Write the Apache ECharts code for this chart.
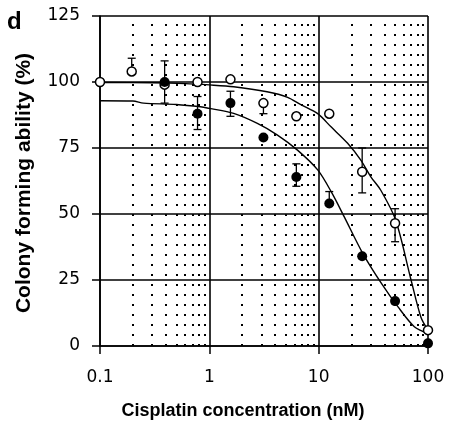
<!DOCTYPE html>
<html>
<head>
<meta charset="utf-8">
<script src="https://cdn.jsdelivr.net/npm/echarts@6/dist/echarts.min.js"></script>
<style>html,body{margin:0;padding:0;background:#fff;}#c{width:449px;height:423px;}</style>
</head>
<body>
<div id="c"></div>
<script>
// Tick labels
var xTickLabels = ['0.1', '1', '10', '100'];
var yTickLabels = ['0', '25', '50', '75', '100', '125'];
// Minor (dotted) gridline positions
var minorGrid = [0.2,0.3,0.4,0.5,0.6,0.7,0.8,0.9,2,3,4,5,6,7,8,9,20,30,40,50,60,70,80,90];

// Open circles (measured points)
var openX = [0.1, 0.195, 0.39, 0.78, 1.56, 3.125, 6.25, 12.5, 25, 50, 100];
var openY = [100, 104, 99, 100, 101, 92, 87, 88, 66, 46.5, 6];
// Filled circles
var fillX = [0.39, 0.78, 1.56, 3.125, 6.25, 12.5, 25, 50, 100];
var fillY = [100, 88, 92, 79, 64, 54, 34, 17, 1];

// Error bars [x, low, high]
var openErrX = [0.195, 0.39, 3.125, 25, 50];
var openErrLow = [104, 92, 88, 58, 39.5];
var openErrHigh = [109, 99, 92, 75, 52];
var fillErrX = [0.39, 0.78, 1.56, 6.25, 12.5];
var fillErrLow = [100, 82, 87, 60.5, 54];
var fillErrHigh = [108, 94.5, 96.5, 69, 58.5];

// Fitted curves
var upperCurveX = [0.1, 0.3, 0.6, 1, 1.67, 3.37, 5.2, 6.8, 9.8, 12.9, 18.4, 24.2, 30, 37, 50.6, 70, 86, 100];
var upperCurveY = [99.8, 99.7, 99.4, 98.9, 98.2, 96.3, 94.2, 91.5, 88, 83.1, 76.8, 70.5, 64.1, 59, 47.7, 25, 11, 6];
var lowerCurveX = [0.1, 0.2, 0.25, 0.5, 0.83, 1, 1.67, 2.75, 4.2, 6.4, 9.8, 13.2, 17.1, 25.3, 37.5, 53, 75, 100];
var lowerCurveY = [92.9, 92.8, 92.0, 91.5, 90.6, 90, 88.1, 84.3, 79.9, 74.2, 66.7, 58, 49, 35.1, 23.7, 14.9, 7.3, 4.8];

function zip(a, b) { return a.map(function (v, i) { return [v, b[i]]; }); }
function zip3(a, b, c) { return a.map(function (v, i) { return [v, b[i], c[i]]; }); }

function errRender(params, api) {
  var x = api.value(0);
  var lo = api.coord([x, api.value(1)]);
  var hi = api.coord([x, api.value(2)]);
  var w = 4;
  var st = { stroke: '#000', lineWidth: 1.3 };
  return {
    type: 'group',
    children: [
      { type: 'line', shape: { x1: lo[0], y1: lo[1], x2: hi[0], y2: hi[1] }, style: st },
      { type: 'line', shape: { x1: hi[0] - w, y1: hi[1], x2: hi[0] + w, y2: hi[1] }, style: st },
      { type: 'line', shape: { x1: lo[0] - w, y1: lo[1], x2: lo[0] + w, y2: lo[1] }, style: st }
    ]
  };
}

var chart = echarts.init(document.getElementById('c'), null, { renderer: 'canvas' });
var txt = '#000';
chart.setOption({
  animation: false,
  backgroundColor: '#fff',
  grid: { left: 100, right: 21, top: 16, bottom: 77, containLabel: false },
  xAxis: {
    type: 'log', logBase: 10, min: 0.1, max: 100,
    axisLine: { show: true, onZero: false, lineStyle: { color: '#000', width: 1.6 } },
    axisTick: { show: true, length: 8, lineStyle: { color: '#000', width: 1.5 } },
    axisLabel: {
      color: txt, fontSize: 17, fontFamily: 'DejaVu Sans', margin: 23,
      formatter: function (v) {
        for (var i = 0; i < xTickLabels.length; i++) {
          if (Math.abs(parseFloat(xTickLabels[i]) - v) < 1e-6 * Math.max(1, v)) return xTickLabels[i];
        }
        return '';
      }
    },
    splitLine: { show: true, lineStyle: { color: '#000', width: 1.6 } },
    minorTick: { show: false }
  },
  yAxis: {
    type: 'value', min: 0, max: 125, interval: 25,
    axisLine: { show: true, lineStyle: { color: '#000', width: 1.6 } },
    axisTick: { show: true, length: 8, lineStyle: { color: '#000', width: 1.5 } },
    axisLabel: {
      color: txt, fontSize: 17, fontFamily: 'DejaVu Sans', margin: 20,
      formatter: function (v) {
        var s = String(v);
        return yTickLabels.indexOf(s) >= 0 ? s : '';
      }
    },
    splitLine: { show: true, lineStyle: { color: '#000', width: 1.6 } }
  },
  graphic: [
    { type: 'text', left: 7, top: 10, style: { text: 'd', fill: '#000', font: 'bold 24px "Liberation Sans"' } },
    { type: 'text', x: 243, y: 411, style: { text: 'Cisplatin concentration (nM)', fill: '#000', font: 'bold 18px "Liberation Sans"', textAlign: 'center', textVerticalAlign: 'middle' } },
    { type: 'text', x: 24, y: 183, rotation: Math.PI / 2, style: { text: 'Colony forming ability (%)', fill: '#000', font: 'bold 21px "Liberation Sans"', textAlign: 'center', textVerticalAlign: 'middle' } }
  ],
  series: [
    {
      type: 'line', name: 'grid', data: [], silent: true,
      markLine: {
        silent: true, symbol: ['none', 'none'], label: { show: false }, animation: false,
        lineStyle: { color: '#000', width: 2, type: [2, 8] },
        data: minorGrid.map(function (v) { return { xAxis: v }; })
      }
    },
    {
      type: 'line', name: 'upperFit', data: zip(upperCurveX, upperCurveY), smooth: 0.3,
      showSymbol: false, lineStyle: { color: '#000', width: 1.4 }, z: 3
    },
    {
      type: 'line', name: 'lowerFit', data: zip(lowerCurveX, lowerCurveY), smooth: 0.3,
      showSymbol: false, lineStyle: { color: '#000', width: 1.4 }, z: 3
    },
    {
      type: 'custom', name: 'openErr', renderItem: errRender, data: zip3(openErrX, openErrLow, openErrHigh),
      encode: { x: 0, y: [1, 2] }, z: 4
    },
    {
      type: 'custom', name: 'fillErr', renderItem: errRender, data: zip3(fillErrX, fillErrLow, fillErrHigh),
      encode: { x: 0, y: [1, 2] }, z: 4
    },
    {
      type: 'scatter', name: 'open', data: zip(openX, openY), symbol: 'circle', symbolSize: 9,
      itemStyle: { color: '#fff', borderColor: '#000', borderWidth: 1.5, opacity: 1 }, z: 5
    },
    {
      type: 'scatter', name: 'filled', data: zip(fillX, fillY), symbol: 'circle', symbolSize: 10,
      itemStyle: { color: '#000', opacity: 1 }, z: 6
    }
  ]
});
</script>
</body>
</html>
